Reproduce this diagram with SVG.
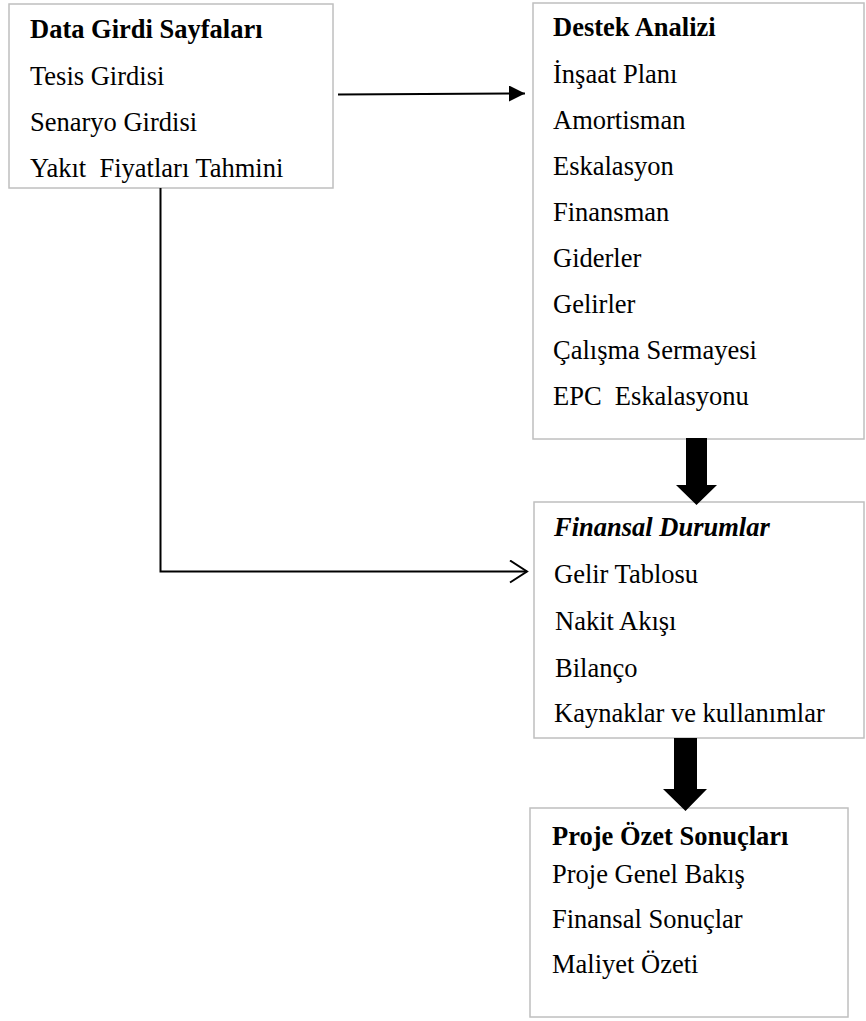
<svg xmlns="http://www.w3.org/2000/svg" width="866" height="1021" viewBox="0 0 866 1021">
<style>
.box{fill:#fff;stroke:#bfbfbf;stroke-width:1.5}
text{font-family:"Liberation Serif","Times New Roman",serif;font-size:26.5px;fill:#000;white-space:pre}
.b{font-weight:bold}
.bi{font-weight:bold;font-style:italic}
.ln{fill:none;stroke:#000;stroke-width:2}
.blk{fill:#000}
</style>
<defs>
<marker id="tri" markerUnits="userSpaceOnUse" markerWidth="18" markerHeight="16" refX="16" refY="8" orient="auto">
<path d="M0,0 L16,8 L0,16 Z" fill="#000"/>
</marker>
<marker id="chev" markerUnits="userSpaceOnUse" markerWidth="20" markerHeight="26" refX="18" refY="12" orient="auto">
<path d="M1,1 L18,12 L1,23" fill="none" stroke="#000" stroke-width="2"/>
</marker>
</defs>
<g id="node-data">
<rect class="box" x="9" y="4" width="324" height="184"/>
<text class="b" x="30" y="38">Data Girdi Sayfaları</text>
<text x="30" y="85">Tesis Girdisi</text>
<text x="30" y="131">Senaryo Girdisi</text>
<text x="30" y="177">Yakıt  Fiyatları Tahmini</text>
</g>
<g id="node-destek">
<rect class="box" x="533" y="3" width="331" height="436"/>
<text class="b" x="553" y="36">Destek Analizi</text>
<text x="553" y="83">İnşaat Planı</text>
<text x="553" y="129">Amortisman</text>
<text x="553" y="175">Eskalasyon</text>
<text x="553" y="221">Finansman</text>
<text x="553" y="267">Giderler</text>
<text x="553" y="313">Gelirler</text>
<text x="553" y="359">Çalışma Sermayesi</text>
<text x="553" y="405">EPC  Eskalasyonu</text>
</g>
<g id="node-finansal">
<rect class="box" x="534" y="502" width="330" height="236"/>
<text class="bi" x="554" y="536">Finansal Durumlar</text>
<text x="554" y="583">Gelir Tablosu</text>
<text x="555" y="630">Nakit Akışı</text>
<text x="555" y="677">Bilanço</text>
<text x="554" y="722">Kaynaklar ve kullanımlar</text>
</g>
<g id="node-proje">
<rect class="box" x="530" y="808" width="318" height="209"/>
<text class="b" x="552" y="845">Proje Özet Sonuçları</text>
<text x="552" y="883">Proje Genel Bakış</text>
<text x="552" y="928">Finansal Sonuçlar</text>
<text x="552" y="973">Maliyet Özeti</text>
</g>
<g id="connectors">
<path class="ln" d="M338,94.5 L525,93.5" marker-end="url(#tri)"/>
<path class="ln" d="M160.5,188 V571.5 H527" marker-end="url(#chev)"/>
<polygon class="blk" points="686,438 707,438 707,485 717,485 696.5,505 676,485 686,485"/>
<polygon class="blk" points="674,738 697,738 697,789 707,789 685.5,811 663,789 674,789"/>
</g>
</svg>
